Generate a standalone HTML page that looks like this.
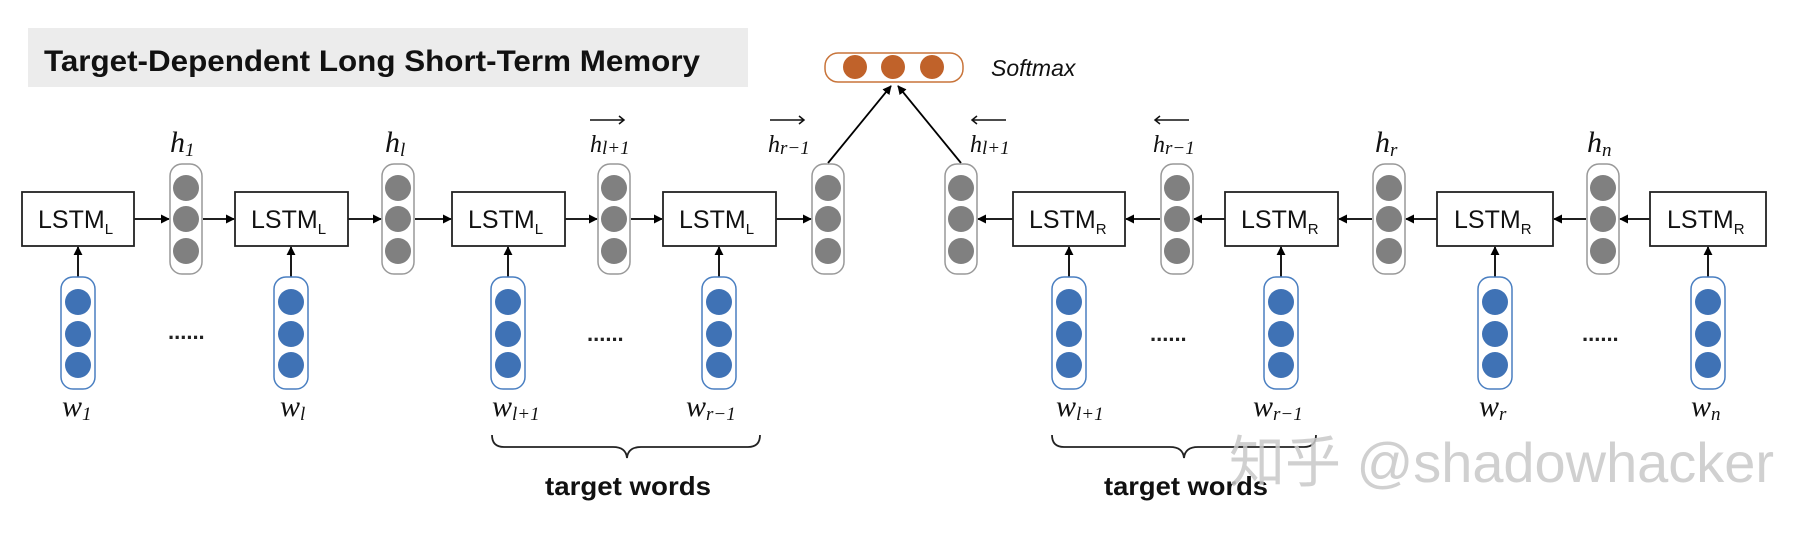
<!DOCTYPE html>
<html><head><meta charset="utf-8"><style>
html,body{margin:0;padding:0;background:#fff;}
svg{display:block;}
.lb{font-family:"Liberation Sans",sans-serif;font-size:25px;fill:#111;}
.sub{font-family:"Liberation Sans",sans-serif;font-size:15px;fill:#111;}
.m{font-family:"Liberation Serif",serif;font-style:italic;font-size:30px;fill:#111;}
.ms{font-family:"Liberation Serif",serif;font-style:italic;font-size:19px;fill:#111;}
.ms2{font-family:"Liberation Serif",serif;font-style:italic;font-size:24px;fill:#111;}
</style></head><body>
<svg width="1818" height="536" viewBox="0 0 1818 536" xmlns="http://www.w3.org/2000/svg">
<defs>
<marker id="a" viewBox="0 0 10 10" refX="9" refY="5" markerWidth="5" markerHeight="5" orient="auto"><path d="M0,0L10,5L0,10z" fill="#000"/></marker>
<g id="gv"><rect x="-16" y="0" width="32" height="110" rx="12" fill="#fff" stroke="#999" stroke-width="1.5"/><circle cx="0" cy="24" r="13" fill="#808080"/><circle cx="0" cy="55" r="13" fill="#808080"/><circle cx="0" cy="87" r="13" fill="#808080"/></g>
<g id="bv"><rect x="-17" y="0" width="34" height="112" rx="12" fill="#fff" stroke="#4a7fc1" stroke-width="1.5"/><circle cx="0" cy="25" r="13" fill="#3f72b5"/><circle cx="0" cy="57" r="13" fill="#3f72b5"/><circle cx="0" cy="88" r="13" fill="#3f72b5"/></g>
</defs>
<rect x="28" y="28" width="720" height="59" fill="#ececec"/>
<text x="44" y="71" textLength="656" lengthAdjust="spacingAndGlyphs" font-family="Liberation Sans,sans-serif" font-weight="bold" font-size="30" fill="#111">Target-Dependent Long Short-Term Memory</text>
<!-- softmax -->
<rect x="825" y="53" width="138" height="29" rx="13" fill="#fff" stroke="#c8743a" stroke-width="1.5"/>
<circle cx="855" cy="67" r="12" fill="#c0622a"/><circle cx="893" cy="67" r="12" fill="#c0622a"/><circle cx="932" cy="67" r="12" fill="#c0622a"/>
<text x="991" y="76" font-family="Liberation Sans,sans-serif" font-style="italic" font-size="23" fill="#111">Softmax</text>
<line x1="828" y1="163" x2="891" y2="86" stroke="#000" stroke-width="1.8" marker-end="url(#a)"/>
<line x1="961" y1="163" x2="898" y2="86" stroke="#000" stroke-width="1.8" marker-end="url(#a)"/>
<g stroke="#000" stroke-width="1.8" marker-end="url(#a)">
<line x1="134" y1="219" x2="169" y2="219"/><line x1="203" y1="219" x2="234" y2="219"/>
<line x1="348" y1="219" x2="381" y2="219"/><line x1="415" y1="219" x2="451" y2="219"/>
<line x1="565" y1="219" x2="597" y2="219"/><line x1="631" y1="219" x2="662" y2="219"/>
<line x1="776" y1="219" x2="811" y2="219"/>
<line x1="1013" y1="219" x2="978" y2="219"/>
<line x1="1160" y1="219" x2="1126" y2="219"/><line x1="1225" y1="219" x2="1194" y2="219"/>
<line x1="1372" y1="219" x2="1339" y2="219"/><line x1="1437" y1="219" x2="1406" y2="219"/>
<line x1="1586" y1="219" x2="1554" y2="219"/><line x1="1650" y1="219" x2="1620" y2="219"/>
<line x1="78" y1="277" x2="78" y2="247"/><line x1="291" y1="277" x2="291" y2="247"/>
<line x1="508" y1="277" x2="508" y2="247"/><line x1="719" y1="277" x2="719" y2="247"/>
<line x1="1069" y1="277" x2="1069" y2="247"/><line x1="1281" y1="277" x2="1281" y2="247"/>
<line x1="1495" y1="277" x2="1495" y2="247"/><line x1="1708" y1="277" x2="1708" y2="247"/>
</g>
<g fill="#fff" stroke="#222" stroke-width="1.8">
<rect x="22" y="192" width="112" height="54"/><rect x="235" y="192" width="113" height="54"/>
<rect x="452" y="192" width="113" height="54"/><rect x="663" y="192" width="113" height="54"/>
<rect x="1013" y="192" width="112" height="54"/><rect x="1225" y="192" width="113" height="54"/>
<rect x="1437" y="192" width="116" height="54"/><rect x="1650" y="192" width="116" height="54"/>
</g>
<g>
<text class="lb" x="38" y="228">LSTM<tspan class="sub" dy="6">L</tspan></text>
<text class="lb" x="251" y="228">LSTM<tspan class="sub" dy="6">L</tspan></text>
<text class="lb" x="468" y="228">LSTM<tspan class="sub" dy="6">L</tspan></text>
<text class="lb" x="679" y="228">LSTM<tspan class="sub" dy="6">L</tspan></text>
<text class="lb" x="1029" y="228">LSTM<tspan class="sub" dy="6">R</tspan></text>
<text class="lb" x="1241" y="228">LSTM<tspan class="sub" dy="6">R</tspan></text>
<text class="lb" x="1454" y="228">LSTM<tspan class="sub" dy="6">R</tspan></text>
<text class="lb" x="1667" y="228">LSTM<tspan class="sub" dy="6">R</tspan></text>
</g>
<use href="#gv" x="186" y="164"/><use href="#gv" x="398" y="164"/><use href="#gv" x="614" y="164"/><use href="#gv" x="828" y="164"/>
<use href="#gv" x="961" y="164"/><use href="#gv" x="1177" y="164"/><use href="#gv" x="1389" y="164"/><use href="#gv" x="1603" y="164"/>
<use href="#bv" x="78" y="277"/><use href="#bv" x="291" y="277"/><use href="#bv" x="508" y="277"/><use href="#bv" x="719" y="277"/>
<use href="#bv" x="1069" y="277"/><use href="#bv" x="1281" y="277"/><use href="#bv" x="1495" y="277"/><use href="#bv" x="1708" y="277"/>
<g font-family="Liberation Sans,sans-serif" font-size="22" font-weight="bold" fill="#222">
<text x="168" y="339">......</text><text x="587" y="341">......</text><text x="1150" y="341">......</text><text x="1582" y="341">......</text>
</g>
<text class="m" x="170" y="152">h<tspan class="ms" dy="4">1</tspan></text>
<text class="m" x="385" y="152">h<tspan class="ms" dy="4">l</tspan></text>
<text class="ms2" x="590" y="152">h<tspan class="ms" font-size="15" dy="2">l+1</tspan></text>
<text class="ms2" x="768" y="152">h<tspan class="ms" font-size="15" dy="2">r−1</tspan></text>
<text class="ms2" x="970" y="152">h<tspan class="ms" font-size="15" dy="2">l+1</tspan></text>
<text class="ms2" x="1153" y="152">h<tspan class="ms" font-size="15" dy="2">r−1</tspan></text>
<text class="m" x="1375" y="152">h<tspan class="ms" dy="4">r</tspan></text>
<text class="m" x="1587" y="152">h<tspan class="ms" dy="4">n</tspan></text>
<g stroke="#111" stroke-width="1.5" fill="none">
<path d="M590,120H624M619,116L624,120L619,124"/><path d="M770,120H804M799,116L804,120L799,124"/>
<path d="M972,120H1006M977,116L972,120L977,124"/><path d="M1155,120H1189M1160,116L1155,120L1160,124"/>
</g>
<text class="m" x="62" y="416">w<tspan class="ms" dy="4">1</tspan></text>
<text class="m" x="280" y="416">w<tspan class="ms" dy="4">l</tspan></text>
<text class="m" x="492" y="416">w<tspan class="ms" dy="4">l+1</tspan></text>
<text class="m" x="686" y="416">w<tspan class="ms" dy="4">r−1</tspan></text>
<text class="m" x="1056" y="416">w<tspan class="ms" dy="4">l+1</tspan></text>
<text class="m" x="1253" y="416">w<tspan class="ms" dy="4">r−1</tspan></text>
<text class="m" x="1479" y="416">w<tspan class="ms" dy="4">r</tspan></text>
<text class="m" x="1691" y="416">w<tspan class="ms" dy="4">n</tspan></text>
<g stroke="#222" stroke-width="1.8" fill="none">
<path d="M492,435Q492,447 504,447H613Q626,447 627,458Q628,447 641,447H748Q760,447 760,435"/>
<path d="M1052,435Q1052,447 1064,447H1170Q1183,447 1184,458Q1185,447 1198,447H1304Q1316,447 1316,435"/>
</g>
<text x="545" y="495" textLength="166" lengthAdjust="spacingAndGlyphs" font-family="Liberation Sans,sans-serif" font-weight="bold" font-size="26" fill="#111">target words</text>
<text x="1104" y="495" textLength="164" lengthAdjust="spacingAndGlyphs" font-family="Liberation Sans,sans-serif" font-weight="bold" font-size="26" fill="#111">target words</text>
<text x="1229" y="482" textLength="545" lengthAdjust="spacingAndGlyphs" font-family="Liberation Sans,'Noto Sans CJK SC',sans-serif" font-size="56" fill="#c8c8c8" fill-opacity="0.85">知乎 @shadowhacker</text>
</svg>
</body></html>
